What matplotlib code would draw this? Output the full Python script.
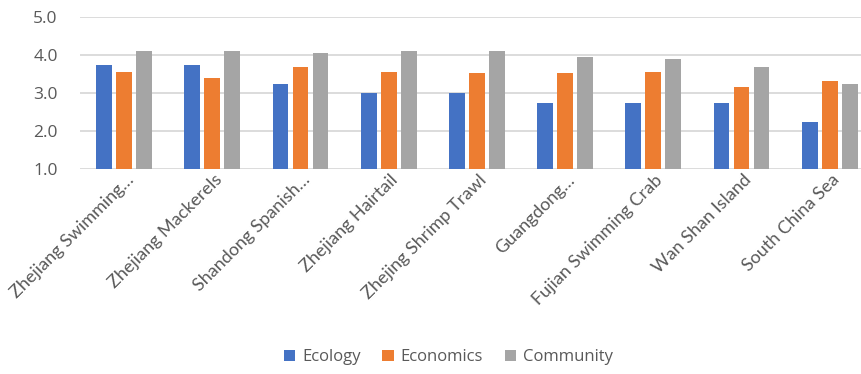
import numpy as np
import matplotlib
matplotlib.use('Agg')
import matplotlib.pyplot as plt

# scores per fishery
labels = ['Zhejiang Swimming…', 'Zhejiang Mackerels', 'Shandong Spanish…',
          'Zhejiang Hairtail', 'Zhejing Shrimp Trawl', 'Guangdong…',
          'Fujian Swimming Crab', 'Wan Shan Island', 'South China Sea']
ecology = [3.75, 3.75, 3.25, 3.0, 3.0, 2.75, 2.75, 2.75, 2.25]
economics = [3.56, 3.39, 3.68, 3.55, 3.53, 3.52, 3.56, 3.16, 3.32]
community = [4.11, 4.11, 4.05, 4.10, 4.11, 3.95, 3.90, 3.68, 3.23]
yticks = [1.0, 2.0, 3.0, 4.0, 5.0]

plt.rcParams['font.family'] = ['Open Sans', 'DejaVu Sans']

fig = plt.figure(figsize=(8.62, 3.74), dpi=100)
ax = fig.add_axes([80/862, 1-169/374, 1-80/862, (169-17)/374])

ind = np.arange(len(labels))
width = 0.178
step = 0.227
ax.bar(ind-step, ecology, width, color='#4472C4', label='Ecology', zorder=3)
ax.bar(ind, economics, width, color='#ED7D31', label='Economics', zorder=3)
ax.bar(ind+step, community, width, color='#A5A5A5', label='Community', zorder=3)

ax.set_ylim(1.0, 5.0)
ax.set_xlim(-0.5, 8.366)
ax.set_yticks(yticks)
ax.set_yticklabels(['%.1f' % v for v in yticks], fontsize=12.5, color='#595959')
ax.yaxis.grid(True, color='#d9d9d9', linewidth=1.3, zorder=0)
ax.tick_params(axis='y', length=0, pad=16)
ax.tick_params(axis='x', length=0, pad=6)
ax.set_xticks(ind + 0.08)
ax.set_xticklabels(labels, rotation=45, ha='right', va='center',
                   rotation_mode='anchor', fontsize=13, color='#595959',
                   family=['Lato', 'DejaVu Sans'])
for s in ax.spines.values():
    s.set_visible(False)

fig.legend(loc='center', bbox_to_anchor=(0.52, 0.045), ncol=3, frameon=False,
           fontsize=12, handlelength=0.7, handleheight=0.7, handletextpad=0.4,
           columnspacing=1.3, labelcolor='#595959')

fig.savefig('out.png', dpi=100)
